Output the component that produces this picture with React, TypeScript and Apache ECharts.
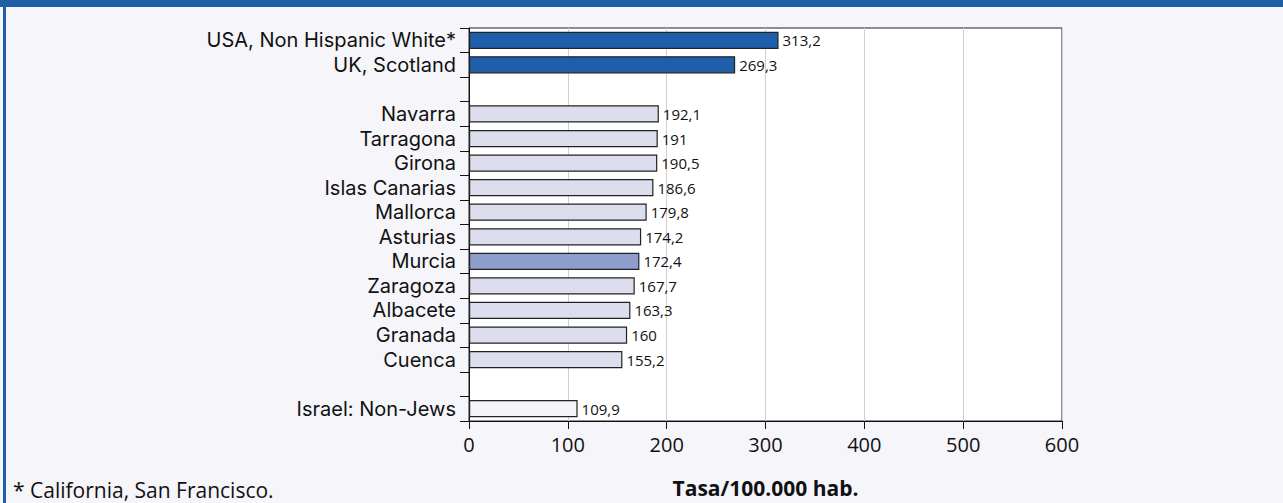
import React, { useEffect, useRef } from "react";
import * as echarts from "echarts";

const categories = [
  "USA, Non Hispanic White*",
  "UK, Scotland",
  "",
  "Navarra",
  "Tarragona",
  "Girona",
  "Islas Canarias",
  "Mallorca",
  "Asturias",
  "Murcia",
  "Zaragoza",
  "Albacete",
  "Granada",
  "Cuenca",
  " ",
  "Israel: Non-Jews",
];

const values: (number | null)[] = [
  313.2, 269.3, null, 192.1, 191, 190.5, 186.6, 179.8, 174.2, 172.4, 167.7, 163.3, 160, 155.2, null, 109.9,
];

// group of each row: international reference, Spanish registry, Murcia, other
const groups = [
  "ref", "ref", "", "es", "es", "es", "es", "es", "es", "murcia", "es", "es", "es", "es", "", "low",
];

const xTicks = { min: 0, max: 600, interval: 100 };
const axisName = "Tasa/100.000 hab.";
const footnote = "* California, San Francisco.";

const groupColors: Record<string, string> = {
  ref: "#1f5fa9",
  es: "#dcdeee",
  murcia: "#8f9dcd",
  low: "#f4f4f9",
  "": "#ffffff",
};

const FONT = "'Open Sans', 'Noto Sans', sans-serif";
const LABEL_FONT = "Inter, 'Open Sans', sans-serif";

export default function App() {
  const ref = useRef<HTMLDivElement>(null);
  useEffect(() => {
    if (!ref.current) return;
    const chart = echarts.init(ref.current, undefined, { renderer: "svg" });
    chart.setOption({
      animation: false,
      backgroundColor: "#f5f5fa",
      textStyle: { fontFamily: FONT },
      grid: {
        left: 469,
        right: 221,
        top: 28,
        bottom: 81,
        show: true,
        backgroundColor: "#ffffff",
        borderColor: "#222222",
        borderWidth: 1,
      },
      xAxis: {
        type: "value",
        min: xTicks.min,
        max: xTicks.max,
        interval: xTicks.interval,
        name: axisName,
        nameLocation: "middle",
        nameGap: 56,
        nameTextStyle: { fontSize: 21, fontWeight: "bold", color: "#111", fontFamily: FONT },
        axisLine: { show: true, lineStyle: { color: "#111", width: 1 } },
        axisTick: { show: true, length: 8, lineStyle: { color: "#111" } },
        axisLabel: { fontSize: 20, color: "#111", margin: 13, fontFamily: FONT },
        splitLine: { show: true, lineStyle: { color: "#d0d0d0", width: 1 } },
      },
      yAxis: {
        type: "category",
        inverse: true,
        data: categories,
        axisLine: { show: true, lineStyle: { color: "#111" } },
        axisTick: { show: true, length: 9, alignWithLabel: false, lineStyle: { color: "#111" } },
        axisLabel: { fontSize: 20, color: "#111", margin: 13, fontFamily: LABEL_FONT, interval: 0 },
        splitLine: { show: false },
      },
      series: [
        {
          type: "bar",
          barWidth: "70%",
          data: values.map((v, i) => ({
            value: v,
            itemStyle: {
              color: groupColors[groups[i]],
              borderColor: "#222",
              borderWidth: 1.2,
            },
          })),
          label: {
            show: true,
            position: "right",
            distance: 4,
            fontSize: 15,
            color: "#111",
            fontFamily: FONT,
            formatter: (p: any) => (p.value == null ? "" : String(p.value).replace(".", ",")),
          },
        },
      ],
      graphic: [
        { type: "rect", shape: { x: 0, y: 0, width: 1283, height: 7 }, style: { fill: "#1e5fa8" } },
        { type: "rect", shape: { x: 3, y: 0, width: 3, height: 503 }, style: { fill: "#1e5fa8" } },
        {
          type: "text",
          x: 13,
          y: 490,
          style: { text: footnote, fontSize: 21, fill: "#111", fontFamily: FONT, verticalAlign: "middle" },
        },
      ],
    });
    return () => chart.dispose();
  }, []);
  return (
    <div
      ref={ref}
      style={{ position: "absolute", left: 0, top: 0, width: 1283, height: 503 }}
    />
  );
}
